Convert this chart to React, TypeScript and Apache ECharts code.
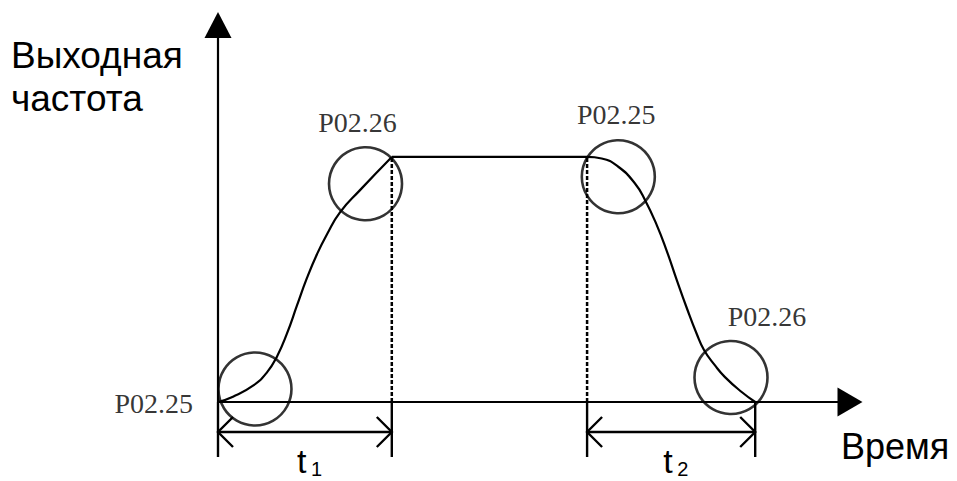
import React, { useEffect, useRef } from 'react';
import * as echarts from 'echarts';

// ---- data (time units / output-frequency units) ----
const riseTime = [0, 2.37, 5.54, 7.75, 9.34, 10.92, 12.5, 14.08, 15.66, 17.25, 19.3, 22.47, 27.5];
const riseFreq = [0, 1.41, 4.32, 7.85, 12.1, 18.2, 25.6, 32.9, 39.2, 44.5, 50.3, 56.2, 65.0];
const fallTime = [58.4, 60.71, 63.34, 65.98, 67.56, 69.41, 71.0, 72.58, 74.16, 75.74, 76.9, 78.64, 80.22, 82.86, 85.0];
const fallFreq = [65.0, 64.6, 62.4, 57.96, 53.6, 47.0, 40.1, 32.4, 25.0, 18.1, 13.8, 9.7, 6.6, 2.65, 0];
const plateauFreq = 65.0;

const circleTime = [5.85, 23.34, 63.34, 81.17];
const circleFreq = [3.45, 57.9, 59.76, 6.5];
const circleLabels = ['P02.25', 'P02.26', 'P02.25', 'P02.26'];

const intervalStart = [0, 58.4];
const intervalEnd = [27.5, 85.0];
const intervalSubs = ['1', '2'];

const yTitleLines = ['Выходная', 'частота'];
const xTitle = 'Время';

// ---- styles ----
const labelOffsets: [number, number][] = [[-62, 15], [-8, -61], [-2, -62], [36, -61]];
const labelAligns = ['right', 'center', 'center', 'center'];
const SANS = '"Liberation Sans", Arial, sans-serif';
const SERIF = '"Liberation Serif", "Times New Roman", serif';

export default function App() {
  const ref = useRef<HTMLDivElement>(null);
  useEffect(() => {
    if (!ref.current) return;
    const chart = echarts.init(ref.current, undefined, { renderer: 'svg' });
    const black = '#000';
    const axisCommon = {
      type: 'value' as const,
      min: 0,
      max: 100,
      axisTick: { show: false },
      axisLabel: { show: false },
      splitLine: { show: false },
    };
    const riseData = riseTime.map((t, i) => [t, riseFreq[i]]);
    const fallData = fallTime.map((t, i) => [t, fallFreq[i]]);
    const accEnd = riseTime[riseTime.length - 1];
    const decStart = fallTime[0];
    const curveStyle = { color: black, width: 2.2 };

    const option: any = {
      animation: false,
      grid: { left: 218, right: 107, top: 25, bottom: 79 },
      xAxis: {
        ...axisCommon,
        axisLine: {
          show: true,
          symbol: ['none', 'triangle'],
          symbolSize: [29, 25],
          lineStyle: { color: black, width: 2.2 },
        },
      },
      yAxis: {
        ...axisCommon,
        axisLine: {
          show: true,
          symbol: ['none', 'triangle'],
          symbolSize: [27, 26],
          lineStyle: { color: black, width: 2.2 },
        },
      },
      graphic: [
        {
          type: 'text',
          left: 11,
          top: 34,
          style: { text: yTitleLines.join('\n'), font: `37px ${SANS}`, fill: black, lineHeight: 43 },
        },
        {
          type: 'text',
          left: 841,
          top: 428,
          style: { text: xTitle, font: `36px ${SANS}`, fill: black },
        },
      ],
      series: [
        {
          type: 'line',
          data: riseData,
          smooth: 0.5,
          showSymbol: false,
          clip: false,
          lineStyle: curveStyle,
        },
        {
          type: 'line',
          data: [[accEnd, plateauFreq], [decStart, plateauFreq]],
          showSymbol: false,
          clip: false,
          lineStyle: curveStyle,
        },
        {
          type: 'line',
          data: fallData,
          smooth: 0.5,
          showSymbol: false,
          clip: false,
          lineStyle: curveStyle,
        },
        {
          type: 'line',
          data: [[accEnd, 0], [accEnd, plateauFreq]],
          showSymbol: false,
          clip: false,
          lineStyle: { color: black, width: 2.5, type: [4, 2] },
        },
        {
          type: 'line',
          data: [[decStart, 0], [decStart, plateauFreq]],
          showSymbol: false,
          clip: false,
          lineStyle: { color: black, width: 2.5, type: [4, 2] },
        },
        {
          type: 'scatter',
          clip: false,
          symbol: 'circle',
          symbolSize: 73,
          itemStyle: { color: 'rgba(0,0,0,0)', borderColor: black, borderWidth: 2.6 },
          z: 5,
          data: circleTime.map((t, i) => ({
            name: circleLabels[i],
            value: [t, circleFreq[i]],
            label: {
              show: true,
              formatter: '{b}',
              position: 'inside',
              offset: labelOffsets[i],
              align: labelAligns[i],
              verticalAlign: 'middle',
              fontFamily: SERIF,
              fontSize: 28,
              color: black,
            },
          })),
        },
        {
          type: 'custom',
          clip: false,
          encode: { x: [0, 1] },
          data: intervalStart.map((s, i) => [s, intervalEnd[i]]),
          renderItem: (params: any, api: any) => {
            const p0 = api.coord([api.value(0), 0]);
            const p1 = api.coord([api.value(1), 0]);
            const yb = p0[1];
            const tickB = yb + 55;
            const ya = yb + 30;
            const ah = 15;
            const ls = { stroke: black, lineWidth: 2.4, fill: null };
            const cx = (p0[0] + p1[0]) / 2;
            const sub = intervalSubs[params.dataIndex];
            return {
              type: 'group',
              children: [
                { type: 'line', shape: { x1: p0[0], y1: yb, x2: p0[0], y2: tickB }, style: ls },
                { type: 'line', shape: { x1: p1[0], y1: yb, x2: p1[0], y2: tickB }, style: ls },
                { type: 'line', shape: { x1: p0[0], y1: ya, x2: p1[0], y2: ya }, style: ls },
                {
                  type: 'polyline',
                  shape: { points: [[p0[0] + ah, ya - ah], [p0[0], ya], [p0[0] + ah, ya + ah]] },
                  style: ls,
                },
                {
                  type: 'polyline',
                  shape: { points: [[p1[0] - ah, ya - ah], [p1[0], ya], [p1[0] - ah, ya + ah]] },
                  style: ls,
                },
                {
                  type: 'text',
                  x: cx - 8,
                  y: yb + 59,
                  style: {
                    text: 't', font: `34px ${SANS}`, fill: black,
                    align: 'left', verticalAlign: 'middle',
                  },
                },
                {
                  type: 'text',
                  x: cx + 6,
                  y: yb + 67,
                  style: {
                    text: sub, font: `20px ${SANS}`, fill: black,
                    align: 'left', verticalAlign: 'middle',
                  },
                },
              ],
            };
          },
        },
      ],
    };
    chart.setOption(option);
    return () => chart.dispose();
  }, []);
  return (
    <div
      ref={ref}
      style={{ position: 'absolute', left: 0, top: 0, width: 957, height: 481, background: '#fff' }}
    />
  );
}
